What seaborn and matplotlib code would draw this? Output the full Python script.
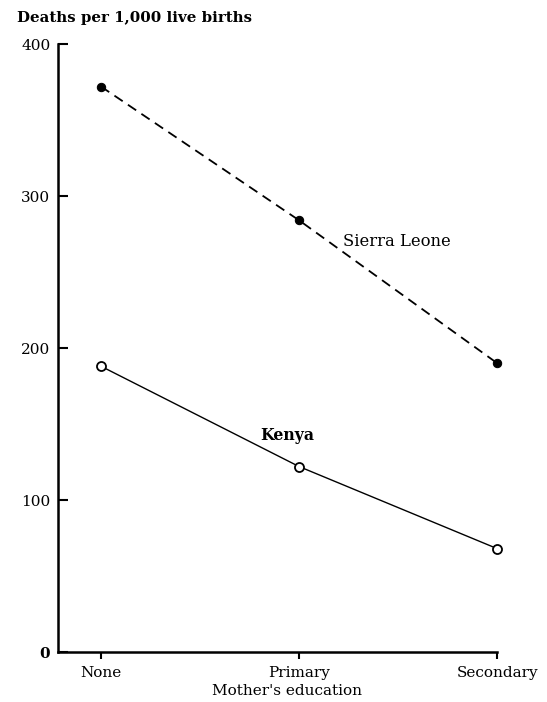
import matplotlib
matplotlib.use("Agg")
import matplotlib.pyplot as plt
import seaborn as sns
import pandas as pd

education = ["None", "Primary", "Secondary"]
sierra_leone = [372, 284, 190]
kenya = [188, 122, 68]
y_ticks = [0, 100, 200, 300, 400]

sns.set_theme(style="ticks")
plt.rcParams['font.family'] = ['DejaVu Serif']
plt.rcParams['text.color'] = 'black'
plt.rcParams['axes.labelcolor'] = 'black'
plt.rcParams['axes.edgecolor'] = 'black'
plt.rcParams['xtick.color'] = 'black'
plt.rcParams['ytick.color'] = 'black'

fig = plt.figure(figsize=(5.47, 7.02), dpi=100)
ax = fig.add_axes([58/547, 50/702, (517-58)/547, (652-44)/702])

df_sl = pd.DataFrame({"edu": education, "val": sierra_leone})
df_ke = pd.DataFrame({"edu": education, "val": kenya})

sns.lineplot(data=df_sl, x="edu", y="val", ax=ax, color="black", lw=1.3,
             marker="o", markersize=6, markerfacecolor="black", markeredgecolor="black",
             linestyle=(0, (5.5, 3.5)), sort=False)
sns.lineplot(data=df_ke, x="edu", y="val", ax=ax, color="black", lw=1.0,
             marker="o", markersize=6.5, markerfacecolor="white", markeredgecolor="black",
             markeredgewidth=1.3, sort=False)
for ln in ax.lines:
    ln.set_clip_on(False)

ax.set_xlim(-0.217, 2.1)
ax.set_ylim(0, 400)
ax.set_xticks([0, 1, 2])
ax.set_xticklabels(education, fontsize=11)
ax.set_yticks(y_ticks)
ax.set_yticklabels([str(v) for v in y_ticks], fontsize=11)
ax.get_yticklabels()[0].set_fontweight("bold")
ax.spines["top"].set_visible(False)
ax.spines["right"].set_visible(False)
ax.spines["bottom"].set_bounds(-0.217, 2)
ax.spines["left"].set_linewidth(1.8)
ax.spines["bottom"].set_linewidth(1.8)
ax.tick_params(axis="y", direction="in", length=7, width=1.5, pad=5.5, colors="black")
ax.tick_params(axis="x", direction="out", length=5, width=1.5, pad=5, colors="black")
ax.set_xlabel("Mother's education", fontsize=11, labelpad=3, color="black")
ax.set_ylabel("")

fig.text(17/547, 1 - 18/702, "Deaths per 1,000 live births", fontsize=10.8, fontweight="bold",
         va="center", ha="left", color="black")
fig.text(260/547, 1 - 435/702, "Kenya", fontsize=11.3, fontweight="bold", va="center", ha="left",
         color="black")
fig.text(343/547, 1 - 242/702, "Sierra Leone", fontsize=11.8, va="center", ha="left",
         color="black")

fig.savefig("out.png", dpi=100)
